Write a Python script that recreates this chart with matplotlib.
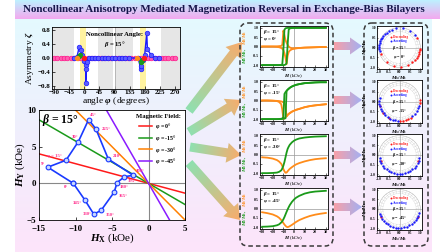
import numpy as np
import matplotlib.pyplot as plt
from matplotlib.patches import FancyArrow, FancyBboxPatch, Circle
from matplotlib.colors import to_rgb

plt.rcParams['font.family'] = 'serif'
plt.rcParams['font.serif'] = ['Liberation Serif', 'DejaVu Serif']
plt.rcParams['font.weight'] = 'bold'
plt.rcParams['mathtext.fontset'] = 'custom'
plt.rcParams['mathtext.rm'] = 'Liberation Serif:bold'
plt.rcParams['mathtext.it'] = 'Liberation Serif:italic:bold'
plt.rcParams['mathtext.bf'] = 'Liberation Serif:bold'
plt.rcParams['axes.linewidth'] = 0.6
plt.rcParams['xtick.direction'] = 'in'
plt.rcParams['ytick.direction'] = 'in'

title = 'Noncollinear Anisotropy Mediated Magnetization Reversal in Exchange-Bias Bilayers'

# ---- asymmetry vs field angle (top left)
pink_phi = [-90, -80, -70, -60, -50, -40, -30, -20, -10, 0, 10, 20, 30, 40, 50, 60, 70, 80,
            90, 100, 110, 120, 130, 140, 150, 160, 170, 180, 190, 200, 210, 220, 230, 240,
            250, 260, 270]
pink_zeta = [0.0] * len(pink_phi)
blue_phi = [-30, -22, -15, -10, -6, 0, 4, 6, 4, 7, 14, 22, 32, 42, 52, 62, 72, 82, 92, 102,
            112, 122, 132, 161, 168, 170, 176, 180, 186, 188, 198, 212, 222]
blue_zeta = [0.0, 0.02, 0.33, 0.23, 0.08, -0.1, -0.2, -0.33, -0.72, -0.12, 0.0, 0.0, 0.0,
             0.0, 0.0, 0.0, 0.0, 0.0, 0.0, 0.0, 0.0, 0.0, 0.0, 0.0, -0.33, -0.23, -0.05,
             0.1, 0.72, 0.25, 0.1, 0.0, 0.0]
green_phi, green_zeta = [-17, -12, 168, 172], [0.05, 0.1, -0.12, -0.06]
orange_phi, orange_zeta = [-22, 158], [0.0, 0.0]
red_phi, red_zeta = [0, 178], [0.0, 0.0]

# ---- switching fields (bottom left)
beta = 15
field_phi = [0, -15, -30, -45]
field_colors = ['#ff1a1a', '#1a9a1a', '#ff8000', '#8a1aff']
sw_hx = [-10.3, -13.8, -11.3, -9.6, -8.2, -7.2, -5.5, -2.1, -3.3, -4.3, -4.7, -6.5, -7.5, -8.7, -10.3]
sw_hy = [0.0, 2.2, 3.15, 5.7, 8.7, 7.4, 3.3, 1.1, 0.9, 0.1, -1.2, -3.7, -4.2, -2.3, 0.0]
sw_labels = ['0°', '9°', 'φ = 15°', '30°', '45°', '225°', '210°', '200°', '195°', '180°',
             '165°', '150°', '330°', '345°']
sw_offsets = [(-7, -3), (-5, 2), (-14, 3), (-5, 3), (1, 3), (4, 0), (3, 2), (2, 3), (2, -3),
              (2, -3), (3, -3), (3, -3), (-8, 0), (-9, -2)]

# ---- hysteresis loops (middle column)
hyst_h = [-30, -25, -20, -16, -14, -12, -11, -10, -9, -8, -7, -6, -5, -4, -2, 0, 2, 5, 10, 15, 20, 25, 30]
hyst_curves = [
    {'phi': '0°',
     'ml': [[-1, -1, -1, -1, -1, -0.99, -0.95, -0.2, 0.9, 0.98, 0.99, 1, 1, 1, 1, 1, 1, 1, 1, 1, 1, 1, 1],
            [-1, -1, -1, -1, -1, -1, -1, -1, -0.99, -0.97, -0.9, 0.1, 0.9, 0.97, 0.99, 1, 1, 1, 1, 1, 1, 1, 1]],
     'mt': [[0, 0, 0, 0.01, 0.02, 0.03, 0.1, 0.85, 0.6, 0.35, 0.2, 0.1, 0.0, -0.05, -0.1, -0.1, -0.09, -0.08, -0.06, -0.05, -0.04, -0.03, -0.03],
            [0, 0, 0, -0.02, -0.04, -0.08, -0.12, -0.2, -0.35, -0.6, -0.95, -0.5, -0.3, -0.22, -0.15, -0.12, -0.1, -0.08, -0.06, -0.05, -0.04, -0.03, -0.03]]},
    {'phi': '-15°',
     'ml': [[-1, -1, -1, -1, -0.99, -0.98, -0.96, -0.9, 0.35, 0.45, 0.52, 0.58, 0.63, 0.68, 0.75, 0.8, 0.84, 0.88, 0.93, 0.95, 0.97, 0.98, 0.98],
            [-1, -1, -1, -1, -1, -0.99, -0.99, -0.98, -0.97, -0.95, 0.5, 0.58, 0.63, 0.68, 0.75, 0.8, 0.84, 0.88, 0.93, 0.95, 0.97, 0.98, 0.98]],
     'mt': [[0, 0, -0.01, -0.03, -0.08, -0.2, -0.5, -1.0, -0.95, -0.9, -0.85, -0.78, -0.72, -0.68, -0.6, -0.55, -0.5, -0.45, -0.36, -0.3, -0.26, -0.23, -0.2],
            [0, 0, -0.01, -0.02, -0.03, -0.05, -0.07, -0.1, -0.15, -0.3, -0.85, -0.78, -0.72, -0.68, -0.6, -0.55, -0.5, -0.45, -0.36, -0.3, -0.26, -0.23, -0.2]]},
    {'phi': '-30°',
     'ml': [[-1, -1, -0.99, -0.97, -0.93, -0.85, -0.75, -0.6, -0.4, -0.15, 0.1, 0.3, 0.42, 0.52, 0.65, 0.74, 0.8, 0.86, 0.91, 0.94, 0.96, 0.97, 0.98]],
     'mt': [[-0.15, -0.17, -0.22, -0.3, -0.38, -0.5, -0.62, -0.78, -0.9, -0.98, -0.97, -0.9, -0.83, -0.77, -0.68, -0.6, -0.53, -0.46, -0.37, -0.3, -0.25, -0.22, -0.2]]},
    {'phi': '-45°',
     'ml': [[-0.98, -0.97, -0.95, -0.9, -0.85, -0.75, -0.68, -0.58, -0.46, -0.32, -0.18, -0.05, 0.07, 0.18, 0.35, 0.48, 0.58, 0.68, 0.8, 0.87, 0.91, 0.93, 0.95]],
     'mt': [[-0.2, -0.25, -0.32, -0.42, -0.5, -0.62, -0.7, -0.78, -0.86, -0.93, -0.98, -1.0, -0.98, -0.95, -0.88, -0.8, -0.72, -0.62, -0.5, -0.4, -0.33, -0.28, -0.24]]},
]

# ---- magnetization direction on the unit circle (right column), angles in degrees
circ_desc = [
    [200, 230, 255, 275, 295, 310, 320, 328, 335, 341, 347, 352, 357, 30],
    [195, 215, 240, 272, 280, 288, 296, 304, 355, 5],
    [200, 340],
    [205, 335],
]
circ_asc = [
    [100, 112, 122, 130, 137, 143, 149, 155, 161, 167, 173, 179, 185, 191, 80, 60, 42],
    [170, 178, 186, 194, 202, 210, 218, 226, 234, 242, 250, 258, 266, 310, 320, 330, 340, 348],
    [190, 198, 206, 214, 222, 230, 238, 246, 254, 262, 270, 278, 286, 294, 302, 310, 318, 326, 334, 342, 350],
    [195, 203, 211, 219, 227, 235, 243, 251, 259, 267, 275, 283, 291, 299, 307, 315, 323, 331, 339, 347],
]

W, H = 448, 252
fig = plt.figure(figsize=(W / 100, H / 100), dpi=100)
fig.patch.set_facecolor('white')


def px_axes(x0, y0, x1, y1, z=3):
    return fig.add_axes([x0 / W, 1 - y1 / H, (x1 - x0) / W, (y1 - y0) / H], zorder=z)


def vgrad(c_top, c_bot, n=100):
    t = np.linspace(0, 1, n)[:, None, None]
    return (1 - t) * np.array(to_rgb(c_top)) + t * np.array(to_rgb(c_bot))


bg = fig.add_axes([0, 0, 1, 1], zorder=0)
bg.axis('off')
bg.imshow(vgrad('#e2fbff', '#fde4fa'), extent=(15, 432, 252, 0), origin='upper', aspect='auto')
bg.imshow(vgrad('#bdf1ff', '#f4a8ef'), extent=(15, 440, 19, 0), origin='upper', aspect='auto')
bg.text(224, 9.5, title, ha='center', va='center', fontsize=7.9, color='#15154a')


def grad_arrow(x0, y0, x1, y1, w, hw, hl, c0, c1):
    arr = FancyArrow(x0, y0, x1 - x0, y1 - y0, width=w, head_width=hw, head_length=hl,
                     length_includes_head=True, facecolor='none', edgecolor='none')
    bg.add_patch(arr)
    xs = np.linspace(min(x0, x1) - hw, max(x0, x1) + hw, 60)
    ys = np.linspace(min(y0, y1) - hw, max(y0, y1) + hw, 60)
    X, Y = np.meshgrid(xs, ys)
    dx, dy = x1 - x0, y1 - y0
    t = np.clip(((X - x0) * dx + (Y - y0) * dy) / (dx * dx + dy * dy), 0, 1)
    img = (1 - t)[..., None] * np.array(to_rgb(c0)) + t[..., None] * np.array(to_rgb(c1))
    im = bg.imshow(img, extent=(xs[0], xs[-1], ys[0], ys[-1]), origin='lower',
                   aspect='auto', interpolation='bilinear', zorder=2)
    im.set_clip_path(arr)


for (x0, y0, x1, y1) in [(189, 111, 242, 42), (189, 132, 241, 100), (190, 147, 241, 155), (189, 163, 240, 220)]:
    grad_arrow(x0, y0, x1, y1, 9, 20, 14, '#8fe0b0', '#f8ac6c')
for yy in [46, 100, 155, 207]:
    grad_arrow(334, yy, 362, yy, 8, 17, 12, '#f7a0a8', '#a4b0f2')

for (bx, bw) in [(240, 93), (364, 64)]:
    bg.add_patch(FancyBboxPatch((bx, 23), bw, 223, boxstyle='round,pad=0,rounding_size=8',
                                fill=False, ls=(0, (3, 2)), lw=1.1, ec='#3a3a3a', zorder=3))
bg.set_xlim(0, W)
bg.set_ylim(H, 0)

# ---------------- top-left: asymmetry
ax1 = px_axes(51.7, 27, 180, 89)
ax1.set_xlim(-97, 285)
ax1.set_ylim(-0.9, 0.9)
for a, b in [(-97, -30), (40, 85), (95, 145), (228, 285)]:
    ax1.axvspan(a, b, color='#e6e6e6', lw=0)
for a, b in [(-12, 5), (167, 184)]:
    ax1.axvspan(a, b, color='#fff3a0', lw=0)
ax1.axvline(90, color='#aaaaaa', lw=0.6)
ax1.plot(pink_phi, pink_zeta, '-o', color='#ff2d95', ms=3.3, mfc='#ff5fb0', mec='#ff1a8c', mew=0.5, lw=0.8)
ax1.plot(blue_phi, blue_zeta, '-o', color='#1a1aff', ms=3.3, mfc='#5c5cff', mec='#1a1aff', mew=0.5, lw=1.0)
ax1.plot(green_phi, green_zeta, 'o', color='#1a9a1a', ms=2.8)
ax1.plot(orange_phi, orange_zeta, 'o', color='#ff8c1a', ms=2.8)
ax1.plot(red_phi, red_zeta, 'o', color='#ff1a1a', ms=2.8)
ax1.text(91, 0.69, 'Noncollinear Angle:', ha='center', va='center', fontsize=4.8)
ax1.text(91, 0.41, r'$\beta$ = 15°', ha='center', va='center', fontsize=4.8)
ax1.set_xticks([-90, -45, 0, 45, 90, 135, 180, 225, 270])
ax1.set_yticks([-0.8, -0.4, 0.0, 0.4, 0.8])
ax1.tick_params(labelsize=5, length=2, width=0.5, pad=1)
ax1.set_ylabel(r'Asymmetry $\zeta$', fontsize=6.8, labelpad=1)
ax1.set_xlabel(r'angle $\varphi$ (degrees)', fontsize=6.8, labelpad=0)

# ---------------- bottom-left: switching fields
ax2 = px_axes(39, 110, 185, 220)
ax2.set_xlim(-15, 5)
ax2.set_ylim(-5, 10)
ax2.axhline(0, color='#888888', lw=0.8)
ax2.axvline(0, color='#888888', lw=0.8)
for p, c in zip(field_phi, field_colors):
    ax2.axline((0, 0), slope=-np.tan(np.radians(beta - p)), color=c, lw=1.1,
               label=r'$\varphi$ = %d°' % p)
ax2.plot(sw_hx, sw_hy, '-o', color='#1a3aff', lw=1.2, ms=3.4, mfc='#c8d8ff', mec='#1a3aff', mew=0.8)
for x, y, s, off in zip(sw_hx, sw_hy, sw_labels, sw_offsets):
    ax2.annotate(s, (x, y), xytext=off, textcoords='offset points', fontsize=3.4,
                 color='#ff2d8c', ha='left', va='center')
ax2.text(-14.6, 8.7, r'$\beta$ = 15°', fontsize=8.5, ha='left', va='center')
leg = ax2.legend(loc='upper right', title='Magnetic Field:', frameon=False, fontsize=4.3,
                 title_fontsize=4.8, handlelength=2.2, labelspacing=0.3, borderaxespad=0.3,
                 handletextpad=0.5)
ax2.set_xticks([-15, -10, -5, 0, 5])
ax2.set_yticks([-5, 0, 5, 10])
ax2.tick_params(labelsize=6.5, length=2, width=0.5)
ax2.tick_params(axis='x', pad=3.5)
ax2.tick_params(axis='y', pad=2)
ax2.set_xlabel(r'$H_\mathrm{X}$ (kOe)', fontsize=8, labelpad=-1)
ax2.set_ylabel(r'$H_\mathrm{Y}$ (kOe)', fontsize=8, labelpad=0)

# ---------------- middle column: hysteresis loops
mid_rects = [(260, 26, 328, 67), (260, 80, 328, 121), (260, 134, 328, 175), (260, 188, 328, 229)]
for (x0, y0, x1, y1), cur in zip(mid_rects, hyst_curves):
    ax = px_axes(x0, y0, x1, y1)
    ax.set_facecolor('white')
    ax.set_xlim(-32, 32)
    ax.set_ylim(-1.1, 1.1)
    ax.axhline(0, color='#999999', lw=0.5)
    ax.axvline(0, color='#999999', lw=0.5)
    for br in cur['mt']:
        ax.plot(hyst_h, br, color='#ff8c1a', lw=1.3)
    for br in cur['ml']:
        ax.plot(hyst_h, br, color='#1a9a1a', lw=1.3)
    ax.text(0.05, 0.86, r'$\beta$ = 15°', transform=ax.transAxes, fontsize=3.6, va='center')
    ax.text(0.05, 0.68, r'$\varphi$ = ' + cur['phi'], transform=ax.transAxes, fontsize=3.6, va='center')
    ax.set_xticks([-30, -20, -10, 0, 10, 20, 30])
    ax.set_yticks([-1, -0.5, 0, 0.5, 1])
    ax.set_yticklabels(['-1.0', '-0.5', '0.0', '0.5', '1.0'])
    ax.tick_params(labelsize=2.8, length=1.2, width=0.4, pad=0.8)
    ax.set_xlabel(r'$H$ (kOe)', fontsize=3.8, labelpad=0.3)
    ym = (y0 + y1) / 2
    bg.text(245, ym + 9, r'$M_l/M_s$,', rotation=90, ha='center', va='center', fontsize=3.8, color='#1a9a1a')
    bg.text(245, ym - 9, r'$M_t/M_s$', rotation=90, ha='center', va='center', fontsize=3.8, color='#ff8c1a')

# ---------------- right column: unit circle
right_rects = [(377, 26, 422, 69), (377, 80, 422, 123), (377, 134, 422, 176), (377, 188, 422, 230)]
for (x0, y0, x1, y1), d, a, p in zip(right_rects, circ_desc, circ_asc, field_phi):
    ax = px_axes(x0, y0, x1, y1)
    ax.set_facecolor('white')
    ax.set_xlim(-1.08, 1.08)
    ax.set_ylim(-1.08, 1.08)
    ax.axhline(0, color='#999999', lw=0.4)
    ax.axvline(0, color='#999999', lw=0.4)
    for r, ls in [(1.0, '-'), (0.9, ':'), (0.8, ':')]:
        ax.add_patch(Circle((0, 0), r, fill=False, ec='#b0b0b0', lw=0.35, ls=ls))
    for ang in np.radians(np.arange(0, 360, 10)):
        ax.plot([0.8 * np.cos(ang), np.cos(ang)], [0.8 * np.sin(ang), np.sin(ang)],
                color='#c8c8c8', lw=0.25)
    dr, ar = np.radians(d), np.radians(a)
    ax.plot(0.97 * np.cos(dr), 0.97 * np.sin(dr), 'o', color='#ff1a1a', ms=1.7, mew=0)
    ax.plot(0.97 * np.cos(ar), 0.97 * np.sin(ar), 'o', color='#1a1aff', ms=1.7, mew=0)
    ax.plot([-0.42], [0.55], 'o', color='#ff1a1a', ms=1.4, mew=0)
    ax.plot([-0.42], [0.33], 'o', color='#1a1aff', ms=1.4, mew=0)
    ax.text(-0.3, 0.55, 'Descending', fontsize=2.3, color='#ff1a1a', va='center')
    ax.text(-0.3, 0.33, 'Ascending', fontsize=2.3, color='#1a1aff', va='center')
    ax.text(-0.02, -0.02, r'$\beta$ = 15°', fontsize=3.1, ha='center', va='center')
    ax.text(-0.02, -0.47, r'$\varphi$ = %d°' % p, fontsize=3.1, ha='center', va='center')
    ax.set_xticks([-1, -0.5, 0, 0.5, 1])
    ax.set_yticks([-1, -0.5, 0, 0.5, 1])
    ax.set_xticklabels(['-1.0', '-0.5', '0.0', '0.5', '1.0'])
    ax.set_yticklabels(['-1.0', '-0.5', '0.0', '0.5', '1.0'])
    ax.tick_params(labelsize=2.6, length=1.0, width=0.4, pad=0.8)
    ax.set_xlabel(r'$M_x/M_s$', fontsize=3.8, labelpad=0.3)
    ax.set_ylabel(r'$M_y/M_s$', fontsize=3.8, labelpad=0.3)

fig.savefig('out.png', dpi=100)
